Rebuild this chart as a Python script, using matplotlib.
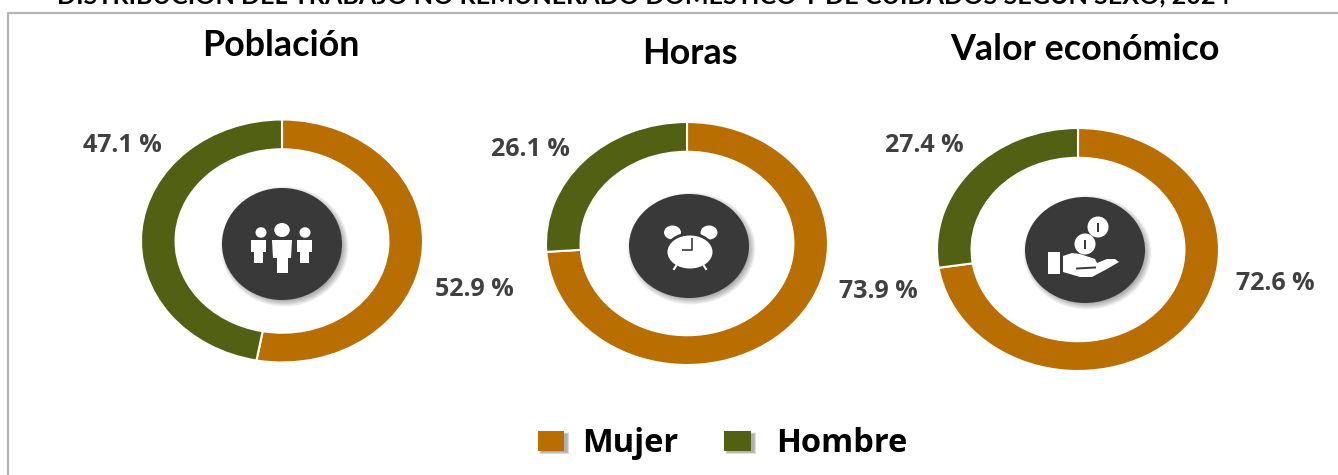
import matplotlib
matplotlib.use("Agg")
import matplotlib.pyplot as plt
from matplotlib.patches import Ellipse, Rectangle, Polygon

W = 1338
H = 475

# Data
titulo = "DISTRIBUCIÓN DEL TRABAJO NO REMUNERADO DOMÉSTICO Y DE CUIDADOS SEGÚN SEXO, 2024"
paneles = ["Población", "Horas", "Valor económico"]
mujer = [52.9, 73.9, 72.6]
hombre = [47.1, 26.1, 27.4]
sexos = ["Mujer", "Hombre"]

# Layout in pixels of the image
centros = [(282, 241), (687, 243.5), (1078, 249.5)]
rx, ry = 141, 121.5
titulo_pos = [(281, 46), (690, 53), (1085, 49)]
mujer_pos = [(474, 290), (878, 292), (1275, 283)]
hombre_pos = [(122, 146), (530, 150), (924, 146)]
icono_pos = [(282, 244, 60, 56), (689, 246, 60, 52), (1085, 250, 60, 53)]

NARANJA = "#B86E00"
VERDE = "#526014"
OSCURO = "#393939"
GRIS = "#404040"

plt.rcParams["font.family"] = ["Open Sans", "DejaVu Sans"]

fig = plt.figure(figsize=(W / 100, H / 100), dpi=100, facecolor="white")

# Background layer in pixel coordinates
bg = fig.add_axes([0, 0, 1, 1])
bg.set_xlim(0, W)
bg.set_ylim(H, 0)
bg.axis("off")
bg.plot([7.5, 7.5, W], [H, 12.5, 12.5], color="#b5b5b5", lw=1.6, zorder=1)
bg.text(644, 4.5, titulo, ha="center", va="baseline", fontsize=18.1, fontweight="bold",
        family=["Lato", "DejaVu Sans"], color="black", clip_on=False)

# Donuts
for i in range(3):
    cx, cy = centros[i]
    ax = fig.add_axes([(cx - rx) / W, 1 - (cy + ry) / H, 2 * rx / W, 2 * ry / H])
    ax.pie([mujer[i], hombre[i]], colors=[NARANJA, VERDE], startangle=90, counterclock=False,
           radius=1, wedgeprops=dict(width=0.245, edgecolor="white", linewidth=1.5))
    ax.set_aspect("auto")
    ax.set_xlim(-1, 1)
    ax.set_ylim(-1, 1)
    ax.patch.set_alpha(0)

# Overlay for text and icons
top = fig.add_axes([0, 0, 1, 1])
top.set_xlim(0, W)
top.set_ylim(H, 0)
top.axis("off")
top.patch.set_alpha(0)


def sombra_circulo(x, y, a, b):
    # soft shadow, a few transparent layers
    for k in range(8):
        top.add_patch(Ellipse((x + 2.5, y + 2.5), 2 * (a + 4 - k), 2 * (b + 4 - k), color="black",
                              alpha=0.05, lw=0, zorder=2))
    top.add_patch(Ellipse((x, y), 2 * a, 2 * b, color=OSCURO, lw=0, zorder=3))


def blanco(p):
    p.set_facecolor("white")
    p.set_edgecolor("none")
    p.set_zorder(4)
    top.add_patch(p)


def icono_personas(x, y):
    # the two side figures, then the taller one in the middle
    for dx, hx in [(-31, -21), (15, 23)]:
        blanco(Polygon([(x + dx, y - 4), (x + dx + 15, y - 4), (x + dx + 15, y + 8),
                        (x + dx + 12, y + 8), (x + dx + 12, y + 19), (x + dx + 3, y + 19),
                        (x + dx + 3, y + 8), (x + dx, y + 8)]))
        blanco(Ellipse((x + hx, y - 11.5), 11, 10.5))
    blanco(Ellipse((x, y - 14), 15.5, 14))
    blanco(Polygon([(x - 10, y - 4), (x + 10, y - 4), (x + 9, y + 14), (x + 6, y + 14),
                    (x + 6, y + 29), (x - 5, y + 29), (x - 5, y + 14), (x - 9, y + 14)]))


def icono_reloj(x, y):
    blanco(Ellipse((x - 16.5, y - 13.5), 17, 14))
    blanco(Ellipse((x + 20, y - 13.5), 17, 14))
    top.add_patch(Ellipse((x + 1, y + 5), 49, 37, color=OSCURO, lw=0, zorder=4))
    blanco(Ellipse((x + 1, y + 6), 45, 33))
    top.plot([x - 7, x + 3, x + 3], [y + 4, y + 4, y - 8], color=OSCURO, lw=1.2, zorder=5,
             solid_capstyle="butt")
    top.plot([x - 13, x - 15], [y + 20, y + 23], color="white", lw=1.5, zorder=4)
    top.plot([x + 15, x + 17], [y + 20, y + 23], color="white", lw=1.5, zorder=4)


def icono_mano(x, y):
    monedas = [(x + 13, y - 23), (x + 0, y - 6)]
    for mx, my in monedas:
        blanco(Ellipse((mx, my), 21, 21))
        top.add_patch(Rectangle((mx - 1.3, my - 4.5), 2.6, 9, color=OSCURO, lw=0, zorder=5))
    blanco(Rectangle((x - 37.5, y + 2), 12.5, 22))
    verts = [(x - 22, y + 6), (x - 13, y + 3), (x - 5, y + 4), (x + 10, y + 9), (x + 12, y + 13),
             (x + 22, y + 9), (x + 30, y + 9), (x + 34, y + 12), (x + 22, y + 19), (x + 7, y + 27),
             (x - 5, y + 27), (x - 22, y + 22)]
    blanco(Polygon(verts, closed=True))
    top.plot([x - 8, x + 10], [y + 18.5, y + 17.5], color=OSCURO, lw=1.4, zorder=5)


iconos = [icono_personas, icono_reloj, icono_mano]
for i in range(3):
    x, y, a, b = icono_pos[i]
    sombra_circulo(x, y, a, b)
    iconos[i](x, y)

    top.text(titulo_pos[i][0], titulo_pos[i][1], paneles[i], ha="center", va="center",
             fontsize=25.8, fontweight="bold", family=["Lato", "DejaVu Sans"], color="black")
    top.text(mujer_pos[i][0], mujer_pos[i][1], "%.1f %%" % mujer[i], ha="center", va="center",
             fontsize=18, fontweight="bold", color=GRIS)
    top.text(hombre_pos[i][0], hombre_pos[i][1], "%.1f %%" % hombre[i], ha="center", va="center",
             fontsize=18, fontweight="bold", color=GRIS)

# Legend
ley_x = [(538, 26), (724, 27)]
ley_txt = [582, 776]
for j in range(2):
    x0, w = ley_x[j]
    for k in range(5):
        top.add_patch(Rectangle((x0 + 1 + k * 0.5, 432 + k * 0.5), w + 4 - k, 22 - k, color="black",
                                alpha=0.07, lw=0, zorder=2))
    top.add_patch(Rectangle((x0, 431), w, 20, color=[NARANJA, VERDE][j], lw=0, zorder=3))
    top.text(ley_txt[j], 443, sexos[j], ha="left", va="center", fontsize=23.5, fontweight="bold",
             color="black")

fig.savefig("out.png", dpi=100)
